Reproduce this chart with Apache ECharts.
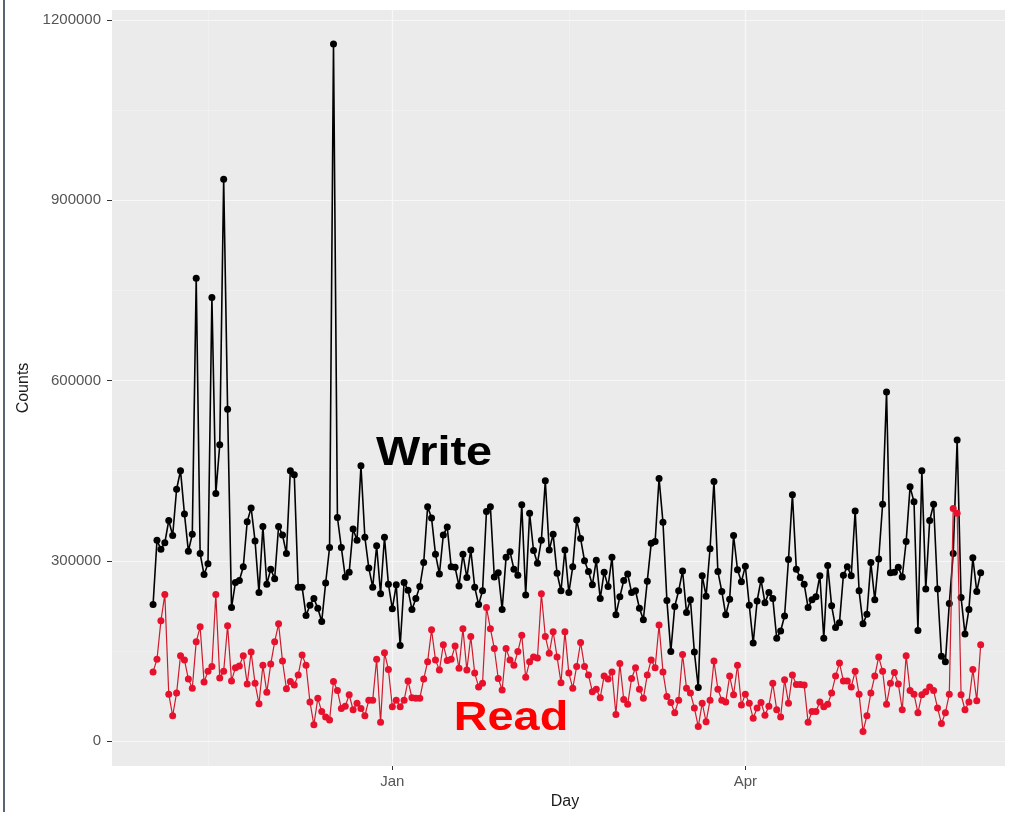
<!DOCTYPE html>
<html>
<head>
<meta charset="utf-8">
<script src="https://cdn.jsdelivr.net/npm/echarts@6/dist/echarts.min.js"></script>
<style>
html,body{margin:0;padding:0;background:#fff;}
#c{width:1010px;height:820px;}
</style>
</head>
<body>
<div id="c"></div>
<script>
// ---- data ----
const startDate = '2018-11-01';   // first day of the series (daily)
const write = [
227000,334000,319000,330000,367000,342000,419000,450000,378000,316000,
344000,770000,312000,277000,295000,738000,412000,493000,935000,552000,
222000,264000,267000,290000,365000,388000,333000,247000,357000,261000,
286000,270000,357000,343000,312000,450000,
443000,256000,256000,209000,226000,237000,221000,199000,263000,322000,
1160000,372000,322000,273000,281000,353000,334000,458000,339000,288000,
256000,325000,245000,339000,261000,220000,260000,159000,264000,251000,
219000,237000,257000,297000,390000,371000,
311000,278000,343000,356000,290000,289000,258000,311000,272000,318000,
256000,227000,250000,382000,390000,273000,280000,219000,306000,315000,
286000,276000,393000,243000,379000,317000,296000,334000,433000,318000,
344000,279000,250000,318000,247000,290000,368000,337000,
300000,282000,260000,301000,237000,281000,257000,306000,210000,240000,
267000,278000,247000,250000,221000,202000,266000,329000,332000,437000,
364000,234000,149000,224000,250000,283000,214000,235000,148000,89000,
275000,241000,320000,432000,282000,249000,210000,
236000,342000,285000,265000,291000,226000,163000,233000,268000,230000,
247000,237000,171000,183000,208000,302000,410000,286000,272000,261000,
222000,235000,240000,275000,171000,292000,225000,189000,197000,276000,
290000,275000,383000,250000,195000,211000,297000,
235000,303000,394000,581000,280000,281000,289000,273000,332000,423000,
398000,184000,450000,253000,367000,394000,253000,141000,132000,229000,
312000,501000,239000,178000,219000,305000,249000,280000
];
const read = [
115000,136000,200000,244000,78000,42000,80000,142000,135000,103000,
88000,165000,190000,98000,116000,124000,244000,105000,116000,192000,
100000,122000,125000,142000,95000,148000,96000,62000,126000,81000,
128000,165000,195000,133000,87000,
99000,93000,110000,143000,126000,65000,27000,71000,49000,40000,
35000,99000,84000,54000,58000,77000,52000,63000,54000,42000,
68000,68000,136000,31000,147000,119000,57000,68000,57000,68000,
100000,72000,71000,71000,103000,132000,185000,
135000,118000,160000,134000,136000,158000,121000,187000,118000,174000,
113000,90000,96000,222000,187000,154000,104000,85000,154000,135000,
126000,149000,176000,106000,132000,140000,138000,245000,174000,146000,
182000,140000,97000,182000,113000,88000,124000,164000,
124000,110000,82000,86000,72000,108000,103000,115000,44000,129000,
69000,61000,104000,122000,86000,71000,110000,135000,122000,193000,
115000,74000,64000,47000,68000,144000,88000,80000,55000,24000,
63000,32000,68000,133000,86000,68000,
65000,108000,77000,126000,60000,78000,63000,38000,55000,64000,
43000,58000,96000,52000,40000,102000,63000,110000,94000,94000,
93000,31000,49000,49000,65000,57000,61000,80000,108000,130000,
100000,100000,90000,116000,78000,16000,42000,80000,
108000,140000,116000,61000,96000,114000,95000,52000,142000,84000,
78000,47000,77000,82000,90000,84000,55000,29000,47000,78000,
387000,379000,77000,52000,65000,119000,67000,160000
];
const xTickDates  = ['2019-01-01','2019-04-01'];
const xTickLabels = ['Jan','Apr'];
const xMinorDates = ['2018-11-15','2019-02-15','2019-05-16'];
const yTicks = [0,300000,600000,900000,1200000];

// ---- helpers: x is measured in days from the first tick date ----
const DAY = 86400000;
function utc(s){ const p=s.split('-').map(Number); return Date.UTC(p[0],p[1]-1,p[2]); }
const ref = utc(xTickDates[0]);
function dayOf(s){ return Math.round((utc(s)-ref)/DAY); }
const d0 = dayOf(startDate);
const days = write.map((_,i)=> d0 + i);
const xMin = -71.47;
const xMax = 156.2;
const tickVals = xTickDates.map(dayOf);
const minorVals = xMinorDates.map(dayOf);

const FONT = '"Liberation Sans", Arial, Helvetica, sans-serif';
const chart = echarts.init(document.getElementById('c'), null, {renderer:'canvas'});

chart.setOption({
  animation:false,
  backgroundColor:'#ffffff',
  grid:[
    {left:112, right:5, top:10, bottom:54, show:true, backgroundColor:'#ebebeb', borderWidth:0},
    {left:112, right:5, top:20, bottom:79, show:false}
  ],
  xAxis:[
    {gridIndex:0, type:'value', min:xMin, max:xMax, position:'bottom',
      axisLine:{show:false, onZero:false},
      axisTick:{show:true, length:4, lineStyle:{color:'#333'}, customValues:tickVals},
      axisLabel:{show:true, customValues:tickVals, color:'#555', fontSize:15, fontFamily:FONT, margin:8,
        formatter:function(v){ let best=0; for(let i=0;i<tickVals.length;i++){ if(Math.abs(tickVals[i]-v)<Math.abs(tickVals[best]-v)) best=i; } return xTickLabels[best]; }},
      splitLine:{show:true, lineStyle:{color:'#f7f7f7', width:1.2}}
    },
    {gridIndex:0, type:'value', min:xMin, max:xMax, position:'top',
      axisLine:{show:false, onZero:false},
      axisTick:{show:false, customValues:minorVals},
      axisLabel:{show:false, customValues:minorVals},
      splitLine:{show:true, lineStyle:{color:'#f3f3f3', width:0.6}}
    },
    {gridIndex:1, type:'value', min:xMin, max:xMax, show:false,
      axisLine:{onZero:false}, splitLine:{show:false}}
  ],
  yAxis:[
    {gridIndex:0, type:'value', min:0, max:1, show:false, axisLine:{onZero:false}, splitLine:{show:false}},
    {gridIndex:1, type:'value', min:yTicks[0], max:yTicks[yTicks.length-1], interval:yTicks[1]-yTicks[0],
      position:'left',
      axisLine:{show:false, onZero:false},
      axisTick:{show:true, length:5, lineStyle:{color:'#333'}},
      axisLabel:{color:'#555', fontSize:15, fontFamily:FONT, margin:11, formatter:function(v){return String(v);}},
      splitLine:{show:true, lineStyle:{color:'#f7f7f7', width:1.2}},
      minorTick:{show:false, splitNumber:2},
      minorSplitLine:{show:true, lineStyle:{color:'#f3f3f3', width:0.6}}
    }
  ],
  series:[
    {name:'Write', type:'line', xAxisIndex:2, yAxisIndex:1,
      data: days.map((d,i)=>[d, write[i]]),
      symbol:'circle', symbolSize:7, showAllSymbol:true, clip:false,
      lineStyle:{color:'#000000', width:1.6},
      itemStyle:{color:'#000000'}, z:3},
    {name:'Read', type:'line', xAxisIndex:2, yAxisIndex:1,
      data: days.map((d,i)=>[d, read[i]]),
      symbol:'circle', symbolSize:7, showAllSymbol:true, clip:false,
      lineStyle:{color:'#cf1a2c', width:1.2},
      itemStyle:{color:'#e8112d'}, z:4}
  ],
  graphic:[
    {type:'line', shape:{x1:4, y1:0, x2:4, y2:812}, style:{stroke:'#22324a', lineWidth:1.5}, z:10},
    {type:'text', x:24, y:388, rotation:Math.PI/2,
      style:{text:'Counts', fill:'#1a1a1a', fontSize:16, fontFamily:FONT, align:'center', verticalAlign:'middle'}, z:10},
    {type:'text', x:565, y:802,
      style:{text:'Day', fill:'#1a1a1a', fontSize:16, fontFamily:FONT, align:'center', verticalAlign:'middle'}, z:10},
    {type:'text', x:434, y:454, scaleX:1.17,
      style:{text:'Write', fill:'#000000', fontSize:40, fontWeight:'bold', fontFamily:FONT, align:'center', verticalAlign:'middle'}, z:10},
    {type:'text', x:511, y:719, scaleX:1.17,
      style:{text:'Read', fill:'#ff0000', fontSize:40, fontWeight:'bold', fontFamily:FONT, align:'center', verticalAlign:'middle'}, z:10}
  ]
});
</script>
</body>
</html>
